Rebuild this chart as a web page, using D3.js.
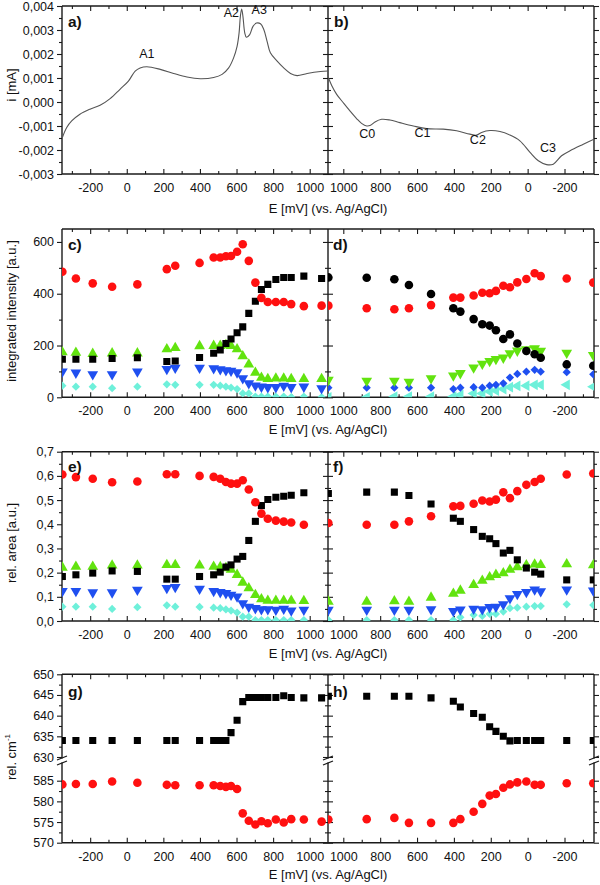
<!DOCTYPE html>
<html><head><meta charset="utf-8">
<script src="https://cdn.jsdelivr.net/npm/d3@7"></script>
<style>
body{margin:0;background:#fff}
svg{display:block}
text{font-family:"Liberation Sans",Arial,sans-serif;fill:#111}
</style>
</head><body>
<svg id="chart" width="600" height="885"></svg>
<script>
// ---------------- DATA ----------------
// a) anodic CV
const cvAnodicE = [-352,-329,-301,-256,-201,-146,-91,-37,9,46,73,110,183,256,329,402,475,521,557,584,603,614,621,628,635,645,654,672,690,709,731,749,767,785,822,858,895,931,986,1059,1100];
const cvAnodicI = [-0.00148,-0.00107,-0.00079,-0.00051,-0.00030,-0.00014,0.00014,0.00053,0.00087,0.00129,0.00142,0.00147,0.00136,0.00119,0.00104,0.00097,0.00102,0.00115,0.00142,0.00184,0.00232,0.00288,0.00357,0.00387,0.00357,0.00288,0.00270,0.00281,0.00315,0.00329,0.00326,0.00302,0.00253,0.00205,0.00170,0.00142,0.00119,0.00110,0.00119,0.00127,0.00129];
// b) cathodic CV
const cvCathodicE = [1083,1063,1036,1000,964,928,901,873,852,828,792,747,693,620,548,458,385,313,277,250,204,150,96,42,-13,-58,-103,-139,-184,-230,-302,-360];
const cvCathodicI = [0.00105,0.00069,0.00032,-0.00003,-0.00037,-0.00069,-0.00089,-0.00100,-0.00097,-0.00083,-0.00072,-0.00075,-0.00086,-0.00100,-0.00111,-0.00113,-0.00120,-0.00134,-0.00138,-0.00127,-0.00119,-0.00123,-0.00138,-0.00162,-0.00210,-0.00245,-0.00261,-0.00259,-0.00224,-0.00203,-0.00176,-0.00155];
const peakLabelsA = [{t:"A1",E:110,i:0.00182},{t:"A2",E:572,i:0.00356},{t:"A3",E:724,i:0.00367}];
const peakLabelsC = [{t:"C0",E:870,i:-0.00150},{t:"C1",E:570,i:-0.00147},{t:"C2",E:270,i:-0.00175},{t:"C3",E:-110,i:-0.00210}];

// potentials of the spectra
const anodicE = [-352,-278,-186,-80,58,219,265,398,475,511,542,570,603,634,667,703,736,771,815,858,899,968,1065];
const cathodicE = [1081,873,723,644,524,403,365,293,246,206,172,132,96,56,7,-38,-71,-212,-356];

// c) integrated intensity, anodic
const cBlack = [147,147,147,150,153,138,140,154,170,183,208,225,249,272,324,371,416,436,455,463,463,468,459];
const cRed   = [485,459,440,427,436,495,508,519,540,540,545,546,562,591,527,443,384,368,368,368,360,352,354];
const cGreen = [174,172,168,170,170,186,191,198,199,199,202,199,186,159,127,95,76,71,73,73,71,71,71];
const cBlue  = [99,95,89,89,99,109,114,114,112,108,104,102,96,73,54,45,41,39,39,44,39,41,35];
const cCyan  = [45,41,41,35,41,50,48,48,48,45,41,37,32,15,15,3,3,3,3,3,1,3,1];
// d) integrated intensity, cathodic
const dBlack = [463,462,456,434,399,344,331,302,282,277,259,225,243,208,179,166,153,127,122];
const dRed   = [354,344,340,344,356,385,385,393,404,402,411,431,425,444,457,479,468,459,443];
const dGreen = [67,64,64,60,73,84,93,115,129,140,148,153,170,180,185,189,179,172,163];
const dBlue  = [37,37,37,37,37,32,37,39,37,45,48,54,76,90,99,106,99,97,89];
const dCyan  = [0,0,3,3,3,3,9,15,15,22,26,32,39,44,45,48,48,48,41];
// e) relative area, anodic
const eBlack = [0.184,0.191,0.198,0.207,0.205,0.173,0.173,0.184,0.191,0.202,0.223,0.232,0.256,0.267,0.333,0.412,0.477,0.502,0.512,0.516,0.520,0.530];
const eRed   = [0.606,0.595,0.588,0.574,0.577,0.607,0.607,0.600,0.596,0.588,0.575,0.568,0.568,0.582,0.544,0.491,0.444,0.423,0.415,0.411,0.407,0.398];
const eGreen = [0.221,0.225,0.225,0.230,0.230,0.232,0.232,0.230,0.225,0.223,0.219,0.212,0.191,0.159,0.136,0.108,0.090,0.084,0.084,0.084,0.084,0.083];
const eBlue  = [0.124,0.124,0.118,0.118,0.129,0.136,0.140,0.133,0.124,0.119,0.115,0.108,0.101,0.073,0.059,0.053,0.048,0.048,0.046,0.050,0.043,0.046];
const eCyan  = [0.059,0.059,0.059,0.050,0.057,0.065,0.059,0.058,0.055,0.053,0.048,0.043,0.035,0.018,0.018,0.004,0.004,0.004,0.004,0.004,0.004,0.004];
// f) relative area, cathodic
const fBlack = [0.527,0.533,0.533,0.519,0.484,0.425,0.412,0.378,0.350,0.340,0.320,0.281,0.292,0.253,0.219,0.202,0.194,0.170,0.170];
const fRed   = [0.405,0.398,0.398,0.412,0.433,0.474,0.476,0.485,0.498,0.494,0.502,0.532,0.508,0.537,0.563,0.575,0.588,0.606,0.610];
const fGreen = [0.080,0.080,0.082,0.080,0.097,0.113,0.126,0.149,0.167,0.181,0.191,0.198,0.212,0.223,0.231,0.234,0.232,0.235,0.231];
const fBlue  = [0.046,0.046,0.046,0.046,0.048,0.041,0.047,0.050,0.048,0.057,0.059,0.069,0.094,0.111,0.120,0.130,0.123,0.130,0.126];
const fCyan  = [0.004,0.004,0.004,0.004,0.004,0.004,0.015,0.025,0.021,0.029,0.029,0.039,0.053,0.055,0.059,0.062,0.062,0.069,0.066];
// g) band position, anodic
const gBlack = [634,634,634,634,634,634,634,634,634,634,634,635.9,638.9,643.4,644.4,644.4,644.4,644.4,644.4,644.8,644.4,644.3,644.3];
const gRed   = [584.1,584.2,584.2,584.8,584.5,584.0,583.9,583.9,583.9,583.7,583.5,583.7,583.0,577.1,575.3,574.4,575.2,574.7,575.6,574.9,575.7,575.6,575.1];
// h) band position, cathodic
const hBlack = [644.7,644.7,644.7,644.7,644.3,643.5,642.1,640.5,639.6,637.3,636.2,635.0,633.9,634,634,634,634,634,634];
const hRed   = [575.6,575.7,576.0,574.8,574.8,574.8,575.7,577.5,579.4,581.4,581.8,583.3,584.1,584.6,584.8,584.0,584.0,584.4,584.4];

// ticks
const xMajorTicks = [-200,0,200,400,600,800,1000];
const xMinorTicks = [-300,-100,100,300,500,700,900];
const yTicksA = [-0.003,-0.002,-0.001,0,0.001,0.002,0.003,0.004];
const yTicksC = [0,200,400,600];
const yTicksE = [0,0.1,0.2,0.3,0.4,0.5,0.6,0.7];
const yTicksGUpper = [630,635,640,645,650];
const yTicksGLower = [570,575,580,585];

const xTitle = "E [mV] (vs. Ag/AgCl)";
const panelLetters = ["a)","b)","c)","d)","e)","f)","g)","h)"];

// ---------------- STYLE / LAYOUT ----------------
const COL = {black:"#000000", red:"#ff1010", green:"#62e30f", blue:"#1f4ff0", cyan:"#6ef0da"};
const X0=62, XM=328, X1=594;
const xL = d3.scaleLinear().domain([-354,1100]).range([X0,XM]);
const xR = d3.scaleLinear().domain([1083,-360]).range([XM,X1]);
const svg = d3.select("#chart");
const AX = "#1a1a1a";

const commaFmt = d => v => (v<0?"-":"") + Math.abs(v).toFixed(d).replace(".",",");
const half = arr => arr.slice(0,-1).map((v,i)=>(v+arr[i+1])/2);

function drawFrame(top, bottom, yAxes, id, titleOff){
  const g = svg.append("g");
  const clean = s => s.call(a=>a.select(".domain").remove()).selectAll("line").attr("stroke",AX).attr("stroke-width",1.1);
  [[xL, xMajorTicks],[xR, xMajorTicks]].forEach(([sc,maj])=>{
    const dom = sc.domain(); const lo=Math.min(...dom), hi=Math.max(...dom);
    const mj = maj.filter(v=>v>lo&&v<hi), mn = xMinorTicks.filter(v=>v>lo&&v<hi);
    const b = g.append("g").attr("transform",`translate(0,${bottom})`)
      .call(d3.axisBottom(sc).tickValues(mj).tickSizeInner(-5).tickSizeOuter(0).tickPadding(9).tickFormat(d=>String(d)));
    clean(b);
    b.selectAll("text").attr("font-size",12.5).attr("fill","#111").attr("font-family",'"Liberation Sans",Arial,sans-serif');
    clean(g.append("g").attr("transform",`translate(0,${bottom})`)
      .call(d3.axisBottom(sc).tickValues(mn).tickSizeInner(-3).tickSizeOuter(0).tickFormat("")));
    clean(g.append("g").attr("transform",`translate(0,${top})`)
      .call(d3.axisTop(sc).tickValues(mj).tickSizeInner(-5).tickSizeOuter(0).tickFormat("")));
    clean(g.append("g").attr("transform",`translate(0,${top})`)
      .call(d3.axisTop(sc).tickValues(mn).tickSizeInner(-3).tickSizeOuter(0).tickFormat("")));
  });
  yAxes.forEach(({sc, major, minor, fmt})=>{
    const l = g.append("g").attr("transform",`translate(${X0},0)`)
      .call(d3.axisLeft(sc).tickValues(major).tickSizeInner(5).tickSizeOuter(0).tickPadding(3).tickFormat(fmt));
    clean(l);
    l.selectAll("text").attr("font-size",12.5).attr("fill","#111").attr("font-family",'"Liberation Sans",Arial,sans-serif');
    clean(g.append("g").attr("transform",`translate(${X0},0)`)
      .call(d3.axisLeft(sc).tickValues(minor).tickSizeInner(3).tickSizeOuter(0).tickFormat("")));
    [[d3.axisLeft,XM],[d3.axisRight,XM],[d3.axisRight,X1]].forEach(([ax,xx])=>{
      clean(g.append("g").attr("transform",`translate(${xx},0)`)
        .call(ax(sc).tickValues(major).tickSizeInner(5).tickSizeOuter(0).tickFormat("")));
      clean(g.append("g").attr("transform",`translate(${xx},0)`)
        .call(ax(sc).tickValues(minor).tickSizeInner(3).tickSizeOuter(0).tickFormat("")));
    });
  });
  const fr = g.append("g").attr("stroke",AX).attr("stroke-width",1.4).attr("fill","none");
  fr.append("line").attr("x1",X0).attr("x2",X1).attr("y1",top).attr("y2",top);
  fr.append("line").attr("x1",X0).attr("x2",X1).attr("y1",bottom).attr("y2",bottom);
  [X0,XM,X1].forEach(xx=>fr.append("line").attr("x1",xx).attr("x2",xx).attr("y1",top).attr("y2",bottom));
  const defs = svg.append("defs");
  defs.append("clipPath").attr("id",id+"L").append("rect").attr("x",X0).attr("y",top).attr("width",XM-X0).attr("height",bottom-top);
  defs.append("clipPath").attr("id",id+"R").append("rect").attr("x",XM).attr("y",top).attr("width",X1-XM).attr("height",bottom-top);
  svg.append("text").attr("x",XM).attr("y",bottom+titleOff).attr("text-anchor","middle").attr("font-size",13).text(xTitle);
}

function yTitle(y, txt, sup){
  const t = svg.append("text").attr("transform",`translate(16,${y}) rotate(-90)`).attr("text-anchor","middle").attr("font-size",13).text(txt);
  if(sup){ t.append("tspan").attr("font-size",8).attr("dy",-6).text(sup); }
}
function panelLabel(x,y,t){
  svg.append("text").attr("x",x).attr("y",y).attr("font-size",15.5).attr("font-weight","bold").text(t);
}

const symGen = {
  square: d3.symbol().type(d3.symbolSquare).size(50),
  circle: d3.symbol().type(d3.symbolCircle).size(58),
  up: d3.symbol().type(d3.symbolTriangle).size(50),
  down: d3.symbol().type(d3.symbolTriangle).size(50),
  diamond: d3.symbol().type(d3.symbolSquare).size(34),
  left: d3.symbol().type(d3.symbolTriangle).size(50)
};
const rot = {down:180, left:-90, diamond:45};
function scatter(clipId, xs, Es, vals, ys, shape, color){
  const g = svg.append("g").attr("clip-path",`url(#${clipId})`);
  g.selectAll("path").data(vals.map((v,i)=>({E:Es[i],v}))).join("path")
    .attr("d",symGen[shape]())
    .attr("transform",d=>`translate(${xs(d.E)},${ys(d.v)}) rotate(${rot[shape]||0})`)
    .attr("fill",color);
}

// ---------------- ROW 1: a/b ----------------
const yA = d3.scaleLinear().domain([-0.003,0.004]).range([174,6]);
drawFrame(6,174,[{sc:yA,major:yTicksA,minor:half(yTicksA),fmt:commaFmt(3)}],"r1",39);
const line = (xs,ys)=>d3.line().x(d=>xs(d[0])).y(d=>ys(d[1])).curve(d3.curveCatmullRom.alpha(0.5));
svg.append("path").attr("clip-path","url(#r1L)").attr("fill","none").attr("stroke","#555").attr("stroke-width",1.1)
  .attr("d",line(xL,yA)(cvAnodicE.map((e,i)=>[e,cvAnodicI[i]])));
svg.append("path").attr("clip-path","url(#r1R)").attr("fill","none").attr("stroke","#555").attr("stroke-width",1.1)
  .attr("d",line(xR,yA)(cvCathodicE.map((e,i)=>[e,cvCathodicI[i]])));
peakLabelsA.forEach(p=>svg.append("text").attr("x",xL(p.E)).attr("y",yA(p.i)).attr("text-anchor","middle").attr("font-size",12.5).text(p.t));
peakLabelsC.forEach(p=>svg.append("text").attr("x",xR(p.E)).attr("y",yA(p.i)).attr("text-anchor","middle").attr("font-size",12.5).text(p.t));
yTitle(85,"i [mA]");
panelLabel(68,27,panelLetters[0]); panelLabel(334,27,panelLetters[1]);

// ---------------- ROW 2: c/d ----------------
const yC = d3.scaleLinear().domain([0,650]).range([397.3,229]);
drawFrame(229,397.3,[{sc:yC,major:yTicksC,minor:half(yTicksC),fmt:d=>String(d)}],"r2",37);
[[cCyan,"diamond",COL.cyan],[cBlue,"down",COL.blue],[cGreen,"up",COL.green],[cBlack,"square",COL.black],[cRed,"circle",COL.red]]
  .forEach(([v,s,c])=>scatter("r2L",xL,anodicE,v,yC,s,c));
[[dCyan,"left",COL.cyan],[dBlue,"diamond",COL.blue],[dGreen,"down",COL.green],[dBlack,"circle",COL.black],[dRed,"circle",COL.red]]
  .forEach(([v,s,c])=>scatter("r2R",xR,cathodicE,v,yC,s,c));
yTitle(311,"integrated intensity [a.u.]");
panelLabel(68,250,panelLetters[2]); panelLabel(333,250,panelLetters[3]);

// ---------------- ROW 3: e/f ----------------
const yE = d3.scaleLinear().domain([0,0.7]).range([621,451.7]);
drawFrame(451.7,621,[{sc:yE,major:yTicksE,minor:half(yTicksE),fmt:commaFmt(1)}],"r3",37);
[[eCyan,"diamond",COL.cyan],[eBlue,"down",COL.blue],[eGreen,"up",COL.green],[eBlack,"square",COL.black],[eRed,"circle",COL.red]]
  .forEach(([v,s,c])=>scatter("r3L",xL,anodicE,v,yE,s,c));
[[fCyan,"diamond",COL.cyan],[fBlue,"down",COL.blue],[fGreen,"up",COL.green],[fBlack,"square",COL.black],[fRed,"circle",COL.red]]
  .forEach(([v,s,c])=>scatter("r3R",xR,cathodicE,v,yE,s,c));
yTitle(543,"rel. area [a.u.]");
panelLabel(68,472,panelLetters[4]); panelLabel(333,472,panelLetters[5]);

// ---------------- ROW 4: g/h (broken axis) ----------------
const yGU = d3.scaleLinear().domain([630,650]).range([757,674.3]);
const yGD = d3.scaleLinear().domain([570,585]).range([842.7,780.7]);
const yG = v => v>=607 ? yGU(v) : yGD(v);
drawFrame(674.3,842.7,[
  {sc:yGU,major:yTicksGUpper,minor:half(yTicksGUpper),fmt:d=>String(d)},
  {sc:yGD,major:yTicksGLower,minor:half(yTicksGLower),fmt:d=>String(d)}],"r4",36);
[X0,XM,X1].forEach(xx=>{
  const b = svg.append("g");
  b.append("rect").attr("x",xx-5).attr("y",758.5).attr("width",10).attr("height",4).attr("fill","#fff");
  b.append("line").attr("x1",xx-5).attr("y1",760).attr("x2",xx+5).attr("y2",756).attr("stroke",AX).attr("stroke-width",1.2);
  b.append("line").attr("x1",xx-5).attr("y1",765).attr("x2",xx+5).attr("y2",761).attr("stroke",AX).attr("stroke-width",1.2);
});
[[gBlack,"square",COL.black],[gRed,"circle",COL.red]].forEach(([v,s,c])=>scatter("r4L",xL,anodicE,v,yG,s,c));
[[hBlack,"square",COL.black],[hRed,"circle",COL.red]].forEach(([v,s,c])=>scatter("r4R",xR,cathodicE,v,yG,s,c));
yTitle(757,"rel. cm","-1");
panelLabel(68,697,panelLetters[6]); panelLabel(333,697,panelLetters[7]);
</script>
</body></html>
